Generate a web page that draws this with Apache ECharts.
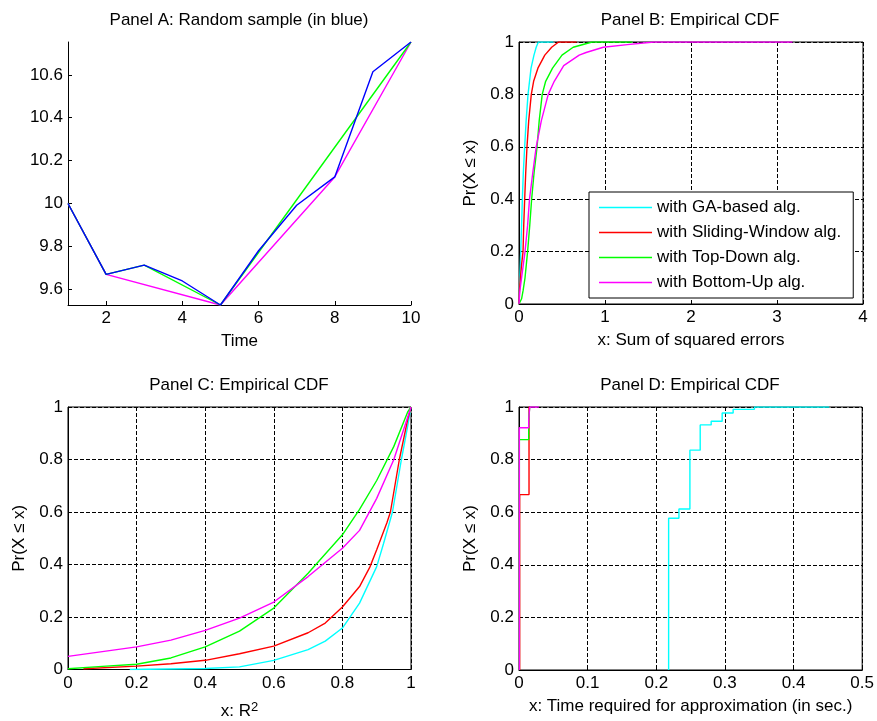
<!DOCTYPE html>
<html>
<head>
<meta charset="utf-8">
<script src="https://cdn.jsdelivr.net/npm/echarts@6/dist/echarts.min.js"></script>
<style>
  html, body { margin: 0; padding: 0; background: #fff; }
  #chart { width: 877px; height: 721px; }
</style>
</head>
<body>
<div id="chart"></div>
<script>
// Panel A: sample path and its piecewise approximations
const timeA = [1, 2, 3, 4, 5, 6, 7, 8, 9, 10];
const sampleA = [10.0, 9.670, 9.713, 9.639, 9.527, 9.780, 9.992, 10.124, 10.614, 10.753];
const topDownA = [[1, 10.0], [2, 9.670], [3, 9.713], [5, 9.527], [10, 10.753]];
const bottomUpA = [[1, 10.0], [2, 9.670], [5, 9.527], [8, 10.124], [10, 10.753]];
const xTicksA = [2, 4, 6, 8, 10];
const yTicksA = [9.6, 9.8, 10, 10.2, 10.4, 10.6];

// Panel B: CDF of sum of squared errors, [x, Pr]
const gaB = [[0, 0], [0.01, 0.1], [0.02, 0.2], [0.03, 0.3], [0.039, 0.4], [0.05, 0.5], [0.066, 0.6], [0.083, 0.7], [0.105, 0.8], [0.14, 0.9], [0.174, 0.95], [0.2, 0.98], [0.225, 1], [0.4, 1]];
const slidingB = [[0, 0], [0.005, 0.05], [0.016, 0.1], [0.03, 0.15], [0.047, 0.2], [0.055, 0.3], [0.066, 0.4], [0.078, 0.5], [0.093, 0.6], [0.113, 0.7], [0.143, 0.8], [0.17, 0.85], [0.22, 0.9], [0.3, 0.95], [0.38, 0.98], [0.46, 1], [0.67, 1]];
const topDownB = [[0, 0], [0.03, 0.02], [0.047, 0.05], [0.07, 0.1], [0.1, 0.2], [0.125, 0.3], [0.147, 0.4], [0.175, 0.5], [0.21, 0.6], [0.235, 0.7], [0.27, 0.8], [0.31, 0.85], [0.39, 0.9], [0.5, 0.95], [0.63, 0.98], [0.85, 1], [1.32, 1]];
const bottomUpB = [[0, 0], [0.01, 0.05], [0.03, 0.1], [0.07, 0.2], [0.1, 0.3], [0.122, 0.4], [0.16, 0.5], [0.2, 0.6], [0.26, 0.7], [0.34, 0.8], [0.41, 0.85], [0.52, 0.91], [0.7, 0.95], [0.78, 0.96], [0.98, 0.98], [1.26, 0.99], [1.57, 1], [3.18, 1]];

// Panel C: CDF of R^2
const gaC = [[0.18, 0], [0.4, 0.004], [0.5, 0.01], [0.6, 0.035], [0.7, 0.076], [0.75, 0.108], [0.8, 0.158], [0.85, 0.253], [0.9, 0.392], [0.92, 0.48], [0.946, 0.6], [0.972, 0.8], [0.99, 0.924], [1, 1]];
const slidingC = [[0.045, 0.003], [0.2, 0.013], [0.3, 0.022], [0.4, 0.035], [0.5, 0.06], [0.6, 0.089], [0.7, 0.14], [0.75, 0.177], [0.8, 0.238], [0.85, 0.316], [0.88, 0.39], [0.9, 0.456], [0.93, 0.56], [0.94, 0.6], [0.966, 0.8], [0.99, 0.95], [1, 1]];
const topDownC = [[0, 0.003], [0.1, 0.012], [0.2, 0.02], [0.3, 0.044], [0.4, 0.086], [0.5, 0.146], [0.6, 0.234], [0.7, 0.367], [0.8, 0.513], [0.85, 0.61], [0.9, 0.72], [0.95, 0.85], [0.99, 0.98], [1, 1]];
const bottomUpC = [[0, 0.05], [0.1, 0.068], [0.2, 0.086], [0.3, 0.112], [0.4, 0.149], [0.5, 0.196], [0.6, 0.257], [0.7, 0.354], [0.8, 0.462], [0.85, 0.53], [0.9, 0.652], [0.95, 0.8], [0.98, 0.92], [1, 1]];

// Panel D: CDF of run time (sec.), step points
const gaD = [[0.218, 0], [0.218, 0.577], [0.233, 0.612], [0.249, 0.836], [0.264, 0.932], [0.28, 0.946], [0.296, 0.977], [0.312, 0.991], [0.343, 1], [0.452, 1]];
const slidingD = [[0.001, 0], [0.001, 0.667], [0.0146, 1], [0.016, 1]];
const topDownD = [[0.0005, 0], [0.0005, 0.876], [0.0141, 0.951], [0.0156, 1], [0.0165, 1]];
const bottomUpD = [[0.0005, 0], [0.0005, 0.921], [0.0141, 0.951], [0.0156, 1], [0.029, 1]];

const names = ['with GA-based alg.', 'with Sliding-Window alg.', 'with Top-Down alg.', 'with Bottom-Up alg.'];
const colors = ['#00ffff', '#ff0000', '#00ff00', '#ff00ff'];

const FONT = 'Liberation Sans, Arial, Helvetica, sans-serif';
const FS = 17;
const txt = { color: '#000', fontFamily: FONT, fontSize: FS };

function valAxis(idx, min, max, interval, extra) {
  return Object.assign({
    type: 'value', gridIndex: idx, min: min, max: max, interval: interval,
    axisLine: { show: true, lineStyle: { color: '#000', width: 1 } },
    axisTick: { show: true, inside: true, length: 4, lineStyle: { color: '#000' } },
    axisLabel: Object.assign({ margin: 5 }, txt),
    splitLine: { show: true, lineStyle: { color: '#000', type: [4, 2], width: 1 } },
    nameLocation: 'middle',
    nameTextStyle: txt
  }, extra || {});
}

const chart = echarts.init(document.getElementById('chart'), null, { renderer: 'canvas' });

const lineS = (name, data, xi, color, z, step) => ({
  name: name, type: 'line', xAxisIndex: xi, yAxisIndex: xi, data: data,
  symbol: 'none', step: step || false, z: z, silent: true,
  lineStyle: { color: color, width: 1.4 }, itemStyle: { color: color }
});

const series = [
  lineS('a-bu', bottomUpA, 0, '#ff00ff', 2),
  lineS('a-td', topDownA, 0, '#00ff00', 3),
  lineS('a-sample', timeA.map((t, i) => [t, sampleA[i]]), 0, '#0000ff', 4)
];
[[gaB, slidingB, topDownB, bottomUpB], [gaC, slidingC, topDownC, bottomUpC], [gaD, slidingD, topDownD, bottomUpD]]
  .forEach((set, p) => {
    set.forEach((d, k) => {
      series.push(lineS(names[k], d, p + 1, colors[k], 2 + k, p === 2 ? 'end' : false));
    });
  });

const boxGrid = { show: true, borderColor: '#000', borderWidth: 1, backgroundColor: 'transparent' };

chart.setOption({
  animation: false,
  backgroundColor: '#fff',
  textStyle: { fontFamily: FONT },
  title: [
    { text: 'Panel A: Random sample (in blue)', left: 239, top: 12, textAlign: 'center', padding: 0, textStyle: Object.assign({ fontWeight: 'normal' }, txt) },
    { text: 'Panel B: Empirical CDF', left: 690, top: 12, textAlign: 'center', padding: 0, textStyle: Object.assign({ fontWeight: 'normal' }, txt) },
    { text: 'Panel C: Empirical CDF', left: 239, top: 377, textAlign: 'center', padding: 0, textStyle: Object.assign({ fontWeight: 'normal' }, txt) },
    { text: 'Panel D: Empirical CDF', left: 690, top: 377, textAlign: 'center', padding: 0, textStyle: Object.assign({ fontWeight: 'normal' }, txt) }
  ],
  grid: [
    { left: 68, top: 42, width: 343, height: 263 },
    Object.assign({ left: 519, top: 42, width: 344, height: 262 }, boxGrid),
    Object.assign({ left: 68, top: 407, width: 343, height: 263 }, boxGrid),
    Object.assign({ left: 519, top: 407, width: 344, height: 263 }, boxGrid)
  ],
  xAxis: [
    valAxis(0, 1, 10, null, {
      name: 'Time', nameGap: 28,
      axisTick: { show: true, inside: true, length: 4, lineStyle: { color: '#000' }, customValues: xTicksA },
      axisLabel: Object.assign({ margin: 5, customValues: xTicksA }, txt),
      splitLine: { show: false }
    }),
    valAxis(1, 0, 4, 1, { name: 'x: Sum of squared errors', nameGap: 28 }),
    valAxis(2, 0, 1, 0.2, {
      name: 'x: R{sup|2}', nameGap: 31,
      nameTextStyle: Object.assign({ rich: { sup: { fontSize: 13, fontFamily: FONT, color: '#000', padding: [0, 0, 9, 0] } } }, txt)
    }),
    valAxis(3, 0, 0.5, 0.1, { name: 'x: Time required for approximation (in sec.)', nameGap: 28 })
  ],
  yAxis: [
    valAxis(0, 9.527, 10.753, null, {
      axisTick: { show: true, inside: true, length: 4, lineStyle: { color: '#000' }, customValues: yTicksA },
      axisLabel: Object.assign({ margin: 5, customValues: yTicksA, formatter: v => String(v) }, txt),
      splitLine: { show: false }
    }),
    valAxis(1, 0, 1, 0.2, { name: 'Pr(X ≤ x)', nameGap: 40 }),
    valAxis(2, 0, 1, 0.2, { name: 'Pr(X ≤ x)', nameGap: 40 }),
    valAxis(3, 0, 1, 0.2, { name: 'Pr(X ≤ x)', nameGap: 40 })
  ],
  legend: {
    orient: 'vertical', left: 589, top: 192,
    padding: [7, 12, 7, 10], itemGap: 8, itemWidth: 53, itemHeight: 1.5, itemTextGap: 6,
    backgroundColor: '#fff', borderColor: '#000', borderWidth: 1, borderRadius: 0,
    selectedMode: false, z: 20,
    textStyle: Object.assign({ lineHeight: 17 }, txt),
    data: names.map(n => ({ name: n, icon: 'rect' }))
  },
  series: series
});
</script>
</body>
</html>
